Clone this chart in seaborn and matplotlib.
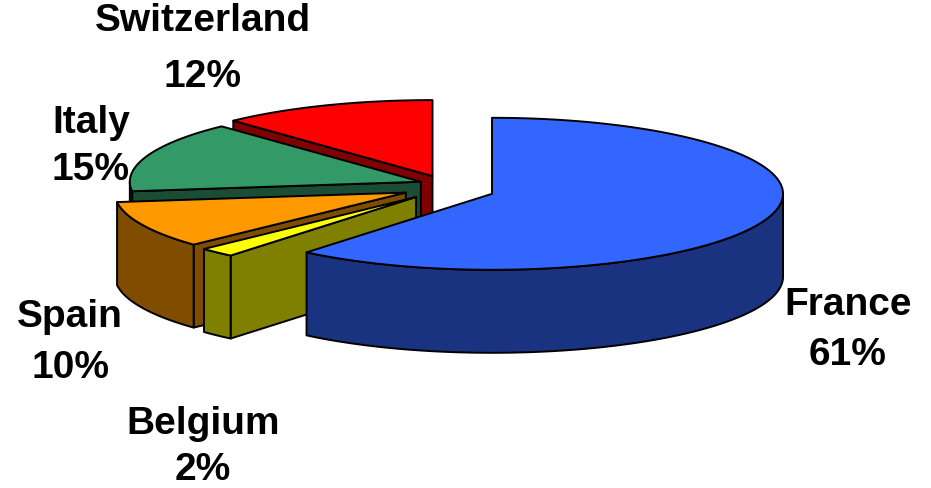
import numpy as np
import matplotlib
matplotlib.use("Agg")
import matplotlib.pyplot as plt
from matplotlib.patches import Polygon
import seaborn as sns

# ---- data ----
countries = ["France", "Belgium", "Spain", "Italy", "Switzerland"]
shares = [61, 2, 10, 15, 12]

# ---- style ----
top_colors = ["#3366FF", "#FFFF00", "#FF9900", "#339966", "#FF0000"]
side_colors = ["#1A3380", "#808000", "#804C00", "#1A4D33", "#800000"]
explode = [0.19, 0.12, 0.13, 0.07, 0.07]
draw_order = [4, 3, 2, 1, 0]
# label layout: (x centre, name baseline, percent baseline)
label_pos = [(848, 315, 365), (203, 434, 480), (70, 327, 378),
             (91, 133, 180), (203, 31, 87)]

sns.set_theme(style="white")
plt.rcParams["font.family"] = ["Liberation Sans", "DejaVu Sans"]

W, H = 931, 489
fig = plt.figure(figsize=(9.31, 4.89), dpi=100)
ax = fig.add_axes([0, 0, 1, 1])
ax.set_xlim(0, W)
ax.set_ylim(H, 0)
ax.axis("off")

CX, CY = 440, 186
RX, RY = 291, 76
DEPTH = 83
EXPLODE_Y = 1.8
LW = 1.4

vals = np.array(shares, dtype=float)
bounds = np.concatenate([[0], np.cumsum(vals) / vals.sum() * 360])


def arc(cx, cy, t0, t1, dz=0.0):
    n = max(2, int(abs(t1 - t0) * 2) + 2)
    r = np.radians(np.linspace(t0, t1, n))
    return np.column_stack([cx + RX * np.sin(r), cy - RY * np.cos(r) + dz])


def poly(pts, fc):
    ax.add_patch(Polygon(pts, closed=True, facecolor=fc, edgecolor="black",
                         linewidth=LW, joinstyle="round"))


for i in draw_order:
    ts, te = bounds[i], bounds[i + 1]
    m = np.radians((ts + te) / 2)
    e = explode[i]
    cx = CX + e * RX * np.sin(m)
    cy = CY - e * RY * EXPLODE_Y * np.cos(m)
    apex = np.array([cx, cy])
    down = np.array([0, DEPTH])
    # visible radial walls
    for t, vis in ((ts, np.sin(np.radians(ts)) < -1e-6),
                   (te, np.sin(np.radians(te)) > 1e-6)):
        if vis:
            p = arc(cx, cy, t, t)[0]
            poly(np.array([apex, p, p + down, apex + down]), side_colors[i])
    # outer curved wall (front half only)
    lo, hi = max(ts, 90), min(te, 270)
    if hi > lo:
        top = arc(cx, cy, lo, hi)
        bot = arc(cx, cy, hi, lo, DEPTH)
        poly(np.vstack([top, bot]), side_colors[i])
    # top face
    poly(np.vstack([apex, arc(cx, cy, ts, te)]), top_colors[i])

for i, name in enumerate(countries):
    x, yn, yp = label_pos[i]
    ax.text(x, yn, name, ha="center", va="baseline", fontsize=28,
            fontweight="bold", color="black")
    ax.text(x, yp, f"{shares[i]}%", ha="center", va="baseline", fontsize=28,
            fontweight="bold", color="black")

fig.savefig("out.png", dpi=100)
